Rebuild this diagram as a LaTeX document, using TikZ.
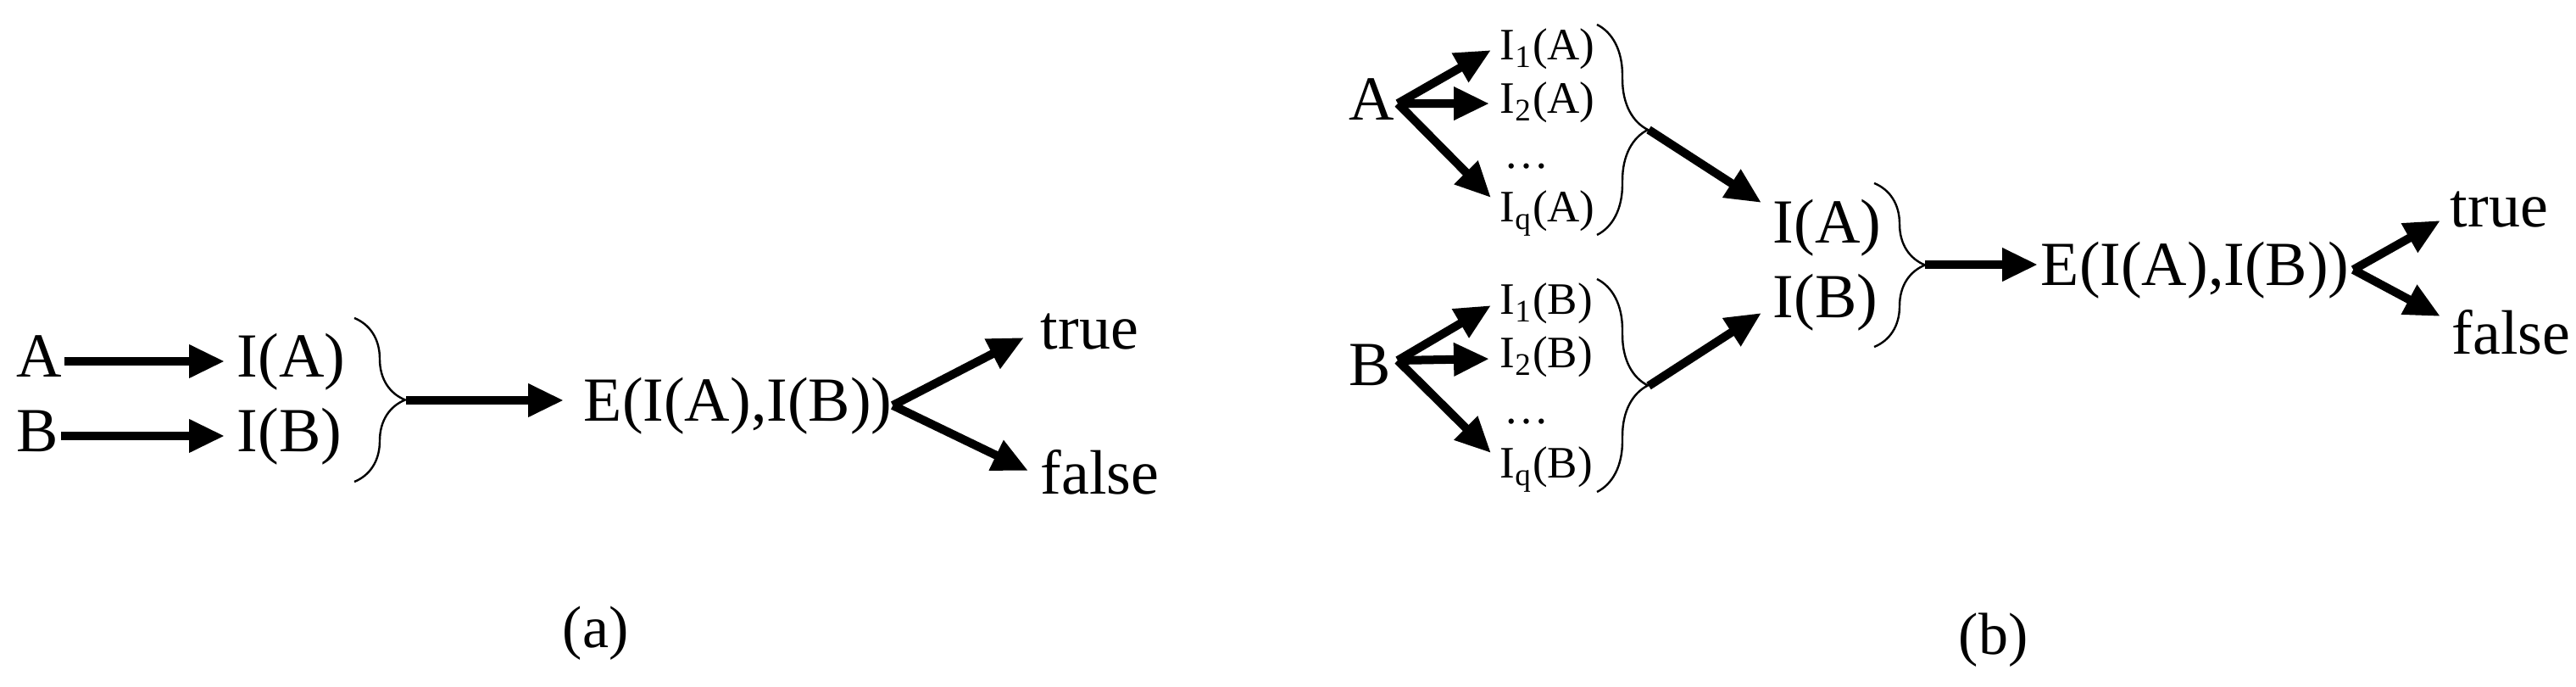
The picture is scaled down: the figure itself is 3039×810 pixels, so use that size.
\documentclass[tikz,border=0pt]{standalone}
\usepackage{fontspec}
\setmainfont{Liberation Serif}
\usetikzlibrary{arrows.meta,decorations.pathreplacing}
\begin{document}
\begin{tikzpicture}[x=0.25pt,y=-0.25pt,
  big/.style={inner sep=0pt, anchor=base west, text height=12.8pt, text depth=3.3pt, font=\fontsize{18.5pt}{20pt}\selectfont},
  small/.style={inner sep=0pt, anchor=base west, text height=9.1pt, text depth=2.4pt, font=\fontsize{13.25pt}{15pt}\selectfont},
  captxt/.style={inner sep=0pt, anchor=base west, font=\fontsize{17.5pt}{20pt}\selectfont},
  arr/.style={line width=2.5pt, -{Triangle[length=10.5pt,width=9.25pt]}},
  brc/.style={line width=0.6pt, decorate, decoration={brace, amplitude=15pt}}]
\fill[white] (0,0) rectangle (3039,810);
\useasboundingbox (0,0) rectangle (3039,810);

% ---------- (a) ----------
\node[big] (A) at (19,445) {A};
\node[big] (IA) at (279,445) {I(A)};
\node[big] (B) at (19,533) {B};
\node[big] (IB) at (279,533) {I(B)};
\node[big] (E) at (688,497) {E(I(A),I(B))};
\node[big] (T) at (1227,412) {true};
\node[big] (F) at (1227,583) {false};
\node[captxt] (la) at (663,763) {(a)};

\draw[arr, shorten <=0.5pt, shorten >=3.5pt] (A.east) -- (IA.west);
\draw[arr, shorten <=0.5pt, shorten >=3.5pt] (B.east) -- (IB.west);
\coordinate (ba1) at (418,375);
\coordinate (ba2) at (418,568);
\coordinate (ta) at (479,472);
\draw[brc] (ba1) -- (ba2);
\draw[arr, shorten >=5.75pt] (ta) -- (ta -| E.west);
\draw[arr] (E.east) -- ([shift={(-19,5)}]T.west);
\draw[arr] (E.east) -- ([shift={(-14,-9)}]F.west);

% ---------- (b) ----------
\node[big] (A2) at (1591,142) {A};
\node[small] (A21) at (1769,71) {I\textsubscript{1}(A)};
\node[small] (A22) at (1769,134) {I\textsubscript{2}(A)};
\node[small] (A2d) at (1774,199) {…};
\node[small] (A2q) at (1769,262) {I\textsubscript{q}(A)};

\node[big] (B2) at (1591,455) {B};
\node[small] (B21) at (1769,371) {I\textsubscript{1}(B)};
\node[small] (B22) at (1769,434) {I\textsubscript{2}(B)};
\node[small] (B2d) at (1774,500) {…};
\node[small] (B2q) at (1769,564) {I\textsubscript{q}(B)};

\node[big] (IAb) at (2091,287) {I(A)};
\node[big] (IBb) at (2091,375) {I(B)};
\node[big] (Eb) at (2407,337) {E(I(A),I(B))};
\node[big] (Tb) at (2890,268) {true};
\node[big] (Fb) at (2892,418) {false};
\node[captxt] (lb) at (2310,772) {(b)};

\coordinate (sA) at ([shift={(3,-1)}]A2.east);
\draw[arr] (sA) -- ([shift={(-10,1.5)}]A21.west);
\draw[arr] (sA) -- ([shift={(-12,1.5)}]A22.west);
\draw[arr] (sA) -- ([shift={(-10,-15.5)}]A2q.west);

\coordinate (sB) at ([shift={(7,-11)}]B2.east);
\draw[arr] (sB) -- ([shift={(-10,2.5)}]B21.west);
\draw[arr] (sB) -- ([shift={(-12,2.5)}]B22.west);
\draw[arr] (sB) -- ([shift={(-10,-16.5)}]B2q.west);

\coordinate (bA1) at (1884,29);
\coordinate (bA2) at (1884,277);
\coordinate (tA) at (1945,153);
\coordinate (bB1) at (1884,329);
\coordinate (bB2) at (1884,580);
\coordinate (tB) at (1945,455);
\coordinate (bC1) at (2211,216);
\coordinate (bC2) at (2211,409);
\coordinate (tC) at (2271,312);
\draw[brc] (bA1) -- (bA2);
\draw[brc] (bB1) -- (bB2);
\draw[brc] (bC1) -- (bC2);

\draw[arr] (tA) -- ([shift={(-13,-29)}]IAb.west);
\draw[arr] (tB) -- ([shift={(-13,13)}]IBb.west);
\draw[arr, shorten >=0.75pt] (tC) -- (tC -| Eb.west);
\draw[arr] ([shift={(4,0)}]Eb.east) -- ([shift={(-11,11)}]Tb.west);
\draw[arr] ([shift={(4,0)}]Eb.east) -- ([shift={(-13,-26)}]Fb.west);
\end{tikzpicture}
\end{document}
